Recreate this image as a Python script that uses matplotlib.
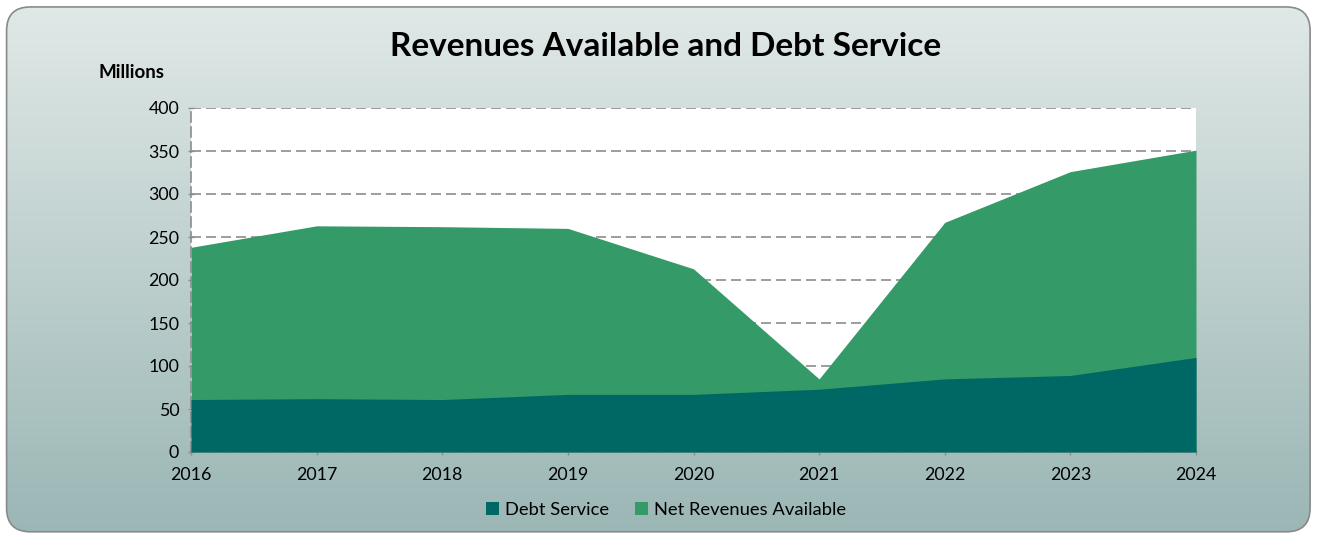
import matplotlib.pyplot as plt
from matplotlib.patches import FancyBboxPatch, Patch
import numpy as np

years = [2016, 2017, 2018, 2019, 2020, 2021, 2022, 2023, 2024]
debt_service = [61, 62, 61, 67, 67, 73, 85, 89, 110]
net_revenues = [238, 263, 262, 260, 213, 85, 267, 326, 351]
y_ticks = [0, 50, 100, 150, 200, 250, 300, 350, 400]

debt_color = '#006864'
net_color = '#349a68'
grid_color = '#8c8c8c'

plt.rcParams['font.family'] = ['Lato', 'DejaVu Sans']

fig = plt.figure(figsize=(13.18, 5.35), dpi=100)

# gradient background with rounded border
bg = fig.add_axes([0, 0, 1, 1])
bg.set_xlim(0, 1)
bg.set_ylim(0, 1)
bg.axis('off')
top = np.array([0.882, 0.914, 0.906])
bottom = np.array([0.604, 0.714, 0.710])
t = np.linspace(0, 1, 256)[:, None]
grad = (bottom * (1 - t) + top * t)[:, None, :]
img = bg.imshow(grad, extent=[0, 1, 0, 1], origin='lower', aspect='auto', zorder=0)
frame = FancyBboxPatch((0.005, 0.006), 0.989, 0.981,
                       boxstyle='round,pad=0,rounding_size=0.018',
                       mutation_aspect=1318 / 535,
                       facecolor='none', edgecolor='#8a8a8a', linewidth=1.2, zorder=2)
bg.add_patch(frame)
img.set_clip_path(frame)

ax = fig.add_axes([191 / 1318, 83 / 535, 1005 / 1318, 344 / 535])
ax.set_facecolor('white')
ax.fill_between(years, 0, net_revenues, color=net_color, linewidth=0, zorder=2)
ax.fill_between(years, 0, debt_service, color=debt_color, linewidth=0, zorder=3)

ax.set_xlim(years[0], years[-1])
ax.set_ylim(0, 400)
ax.set_xticks(years)
ax.set_yticks(y_ticks)
ax.yaxis.grid(True, color=grid_color, linestyle=(0, (6, 3)), linewidth=1.2, zorder=1)
ax.set_axisbelow(True)
for s in ['top', 'right']:
    ax.spines[s].set_visible(False)
for s in ['left', 'bottom']:
    ax.spines[s].set_color(grid_color)
    ax.spines[s].set_linestyle((0, (6, 3)))
    ax.spines[s].set_linewidth(1.2)
ax.tick_params(axis='both', colors=grid_color, labelcolor='black', labelsize=12.8,
               length=5, width=1, direction='inout')
ax.tick_params(axis='x', pad=8)
ax.tick_params(axis='y', pad=6)

fig.text(666 / 1318, 1 - 46 / 535, 'Revenues Available and Debt Service',
         ha='center', va='center', fontsize=24, fontweight='bold')
fig.text(132 / 1318, 1 - 73 / 535, 'Millions', ha='center', va='center',
         fontsize=13.5, fontweight='bold')

handles = [Patch(facecolor=debt_color, label='Debt Service'),
           Patch(facecolor=net_color, label='Net Revenues Available')]
fig.legend(handles=handles, loc='center', bbox_to_anchor=(666 / 1318, 1 - 510 / 535),
           ncol=2, frameon=False, fontsize=13.2, handlelength=0.7, handleheight=0.7,
           handletextpad=0.35, columnspacing=1.4)

fig.savefig('out.png', dpi=100)
